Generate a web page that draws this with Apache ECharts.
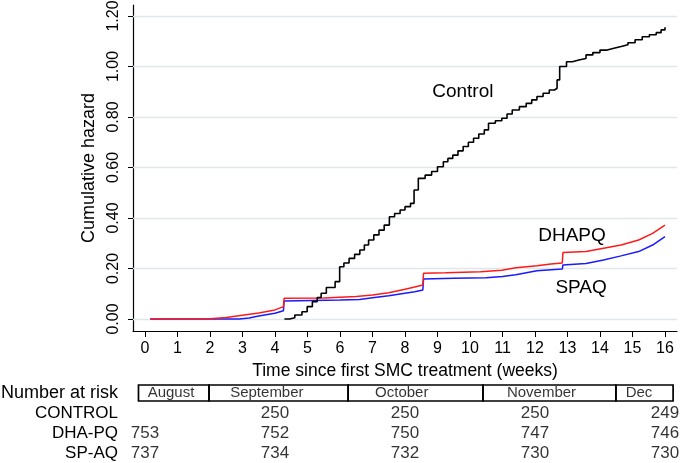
<!DOCTYPE html>
<html><head><meta charset="utf-8">
<script src="https://cdn.jsdelivr.net/npm/echarts@6/dist/echarts.min.js"></script>
<style>html,body{margin:0;padding:0;background:#fff}#c{width:680px;height:463px}</style>
</head><body><div id="c"></div>
<script>
// ---- data ----
const xTicks = [0,1,2,3,4,5,6,7,8,9,10,11,12,13,14,15,16];
const yTicks = [0,0.2,0.4,0.6,0.8,1.0,1.2];

const controlData = [[4.29,0.0],[4.45,0.005],[4.61,0.016],[4.83,0.029],[4.99,0.049],[5.15,0.069],[5.3,0.085],[5.42,0.102],[5.58,0.125],[5.85,0.148],[5.99,0.207],[6.12,0.222],[6.28,0.240],[6.45,0.256],[6.61,0.273],[6.75,0.293],[6.88,0.313],[7.04,0.333],[7.20,0.352],[7.36,0.372],[7.52,0.405],[7.68,0.418],[7.85,0.432],[8.0,0.445],[8.17,0.458],[8.28,0.511],[8.41,0.557],[8.62,0.570],[8.82,0.584],[9.0,0.603],[9.18,0.623],[9.32,0.636],[9.47,0.649],[9.63,0.666],[9.79,0.683],[9.95,0.700],[10.11,0.716],[10.27,0.733],[10.44,0.749],[10.57,0.775],[10.78,0.785],[10.98,0.795],[11.14,0.812],[11.30,0.828],[11.52,0.841],[11.73,0.854],[11.9,0.868],[12.06,0.881],[12.25,0.894],[12.44,0.907],[12.60,0.914],[12.68,0.947],[12.76,1.000],[12.97,1.019],[13.15,1.026],[13.35,1.032],[13.57,1.046],[13.78,1.055],[14.00,1.065],[14.22,1.072],[14.43,1.079],[14.65,1.086],[14.86,1.094],[15.08,1.106],[15.30,1.118],[15.52,1.126],[15.73,1.134],[15.88,1.145],[16.0,1.155]];

const dhapqData = [[0.16,0],[1.9,0],[2.5,0.006],[3.0,0.015],[3.5,0.024],[4.0,0.036],[4.26,0.049],[4.28,0.082],[5.5,0.083],[6.0,0.086],[6.5,0.089],[7.0,0.095],[7.5,0.104],[8.0,0.118],[8.3,0.127],[8.55,0.135],[8.57,0.181],[9.25,0.183],[10.33,0.187],[10.98,0.193],[11.41,0.203],[12.06,0.211],[12.49,0.218],[12.84,0.222],[12.86,0.263],[13.57,0.267],[14.11,0.280],[14.65,0.293],[15.19,0.313],[15.62,0.339],[16.0,0.372]];

const spaqData = [[0.16,0],[2.9,0],[3.2,0.004],[3.5,0.012],[4.0,0.023],[4.26,0.033],[4.28,0.071],[6.0,0.075],[6.6,0.077],[7.0,0.084],[7.5,0.092],[8.0,0.102],[8.3,0.108],[8.55,0.115],[8.57,0.158],[9.5,0.161],[10.5,0.163],[11.0,0.168],[11.41,0.175],[12.06,0.191],[12.84,0.198],[12.86,0.214],[13.57,0.220],[14.11,0.234],[14.65,0.250],[15.19,0.267],[15.62,0.293],[16.0,0.326]];

const riskRows = ['Number at risk','CONTROL','DHA-PQ','SP-AQ'];
const riskTimes = [0,4,8,12,16];
const riskControl = [null,250,250,250,249];
const riskDHAPQ = [753,752,750,747,746];
const riskSPAQ = [737,734,732,730,730];
const months = ['August','September','October','November','Dec'];
const monthBounds = [-0.2,1.97,6.25,10.4,14.49,16.25];
const monthLabelAt = [0.8,3.75,7.9,12.2,15.2];

// ---- chart ----
const FONT = "'Liberation Sans', Arial, Helvetica, sans-serif";
const X_MIN = -0.369, X_MAX = 16.37, Y_MIN = -0.0475, Y_MAX = 1.2436;

const riskPoints = [];
[[1,riskControl],[2,riskDHAPQ],[3,riskSPAQ]].forEach(([r,arr])=>{
  arr.forEach((v,i)=>{ if(v!==null) riskPoints.push([riskTimes[i], riskRows[r], v]); });
});
const monthPoints = months.map((m,i)=>[monthLabelAt[i], riskRows[0], m]);
const monthBoxes = months.map((m,i)=>[monthBounds[i], 0, monthBounds[i+1]]);
const gridLines = yTicks.map(v=>[[X_MIN, v],[X_MAX, v]]);

const chart = echarts.init(document.getElementById('c'), null, {renderer:'canvas'});
chart.setOption({
  animation:false,
  backgroundColor:'#fff',
  textStyle:{fontFamily:FONT,color:'#000'},
  grid:[{left:133,right:3,top:5,bottom:132,outerBoundsMode:'none'},
        {left:133,right:3,top:383,height:80,outerBoundsMode:'none'}],
  xAxis:[{
    type:'value',gridIndex:0,min:X_MIN,max:X_MAX,
    axisLine:{show:true,onZero:false,lineStyle:{color:'#000',width:1.2}},
    axisTick:{show:true,customValues:xTicks,length:6,lineStyle:{color:'#000',width:1}},
    axisLabel:{customValues:xTicks,fontSize:16,color:'#000',margin:10,fontFamily:FONT},
    splitLine:{show:false},
    name:'Time since first SMC treatment (weeks)',nameLocation:'middle',nameGap:30,
    nameTextStyle:{fontSize:17.5,color:'#000',fontFamily:FONT}
  },{
    type:'value',gridIndex:1,min:X_MIN,max:X_MAX,show:false
  }],
  yAxis:[{
    type:'value',gridIndex:0,min:Y_MIN,max:Y_MAX,
    axisLine:{show:true,onZero:false,lineStyle:{color:'#000',width:1.2}},
    axisTick:{show:true,customValues:yTicks,length:5,lineStyle:{color:'#000',width:1}},
    axisLabel:{customValues:yTicks,rotate:90,fontSize:16,margin:11,color:'#000',fontFamily:FONT,
      formatter:v=>Number(v).toFixed(2)},
    splitLine:{show:false},
    name:'Cumulative hazard',nameLocation:'middle',nameGap:34,
    nameTextStyle:{fontSize:18,color:'#000',fontFamily:FONT}
  },{
    type:'category',gridIndex:1,data:riskRows,inverse:true,
    axisLine:{show:false},axisTick:{show:false},splitLine:{show:false},
    axisLabel:{interval:0,margin:15,fontSize:17,color:'#000',fontFamily:FONT,
      formatter:(v,i)=>i===0?'{big|'+v+'}':v,
      rich:{big:{fontSize:18,color:'#000',fontFamily:FONT}}}
  }],
  series:[
    {type:'lines',name:'gridlines',coordinateSystem:'cartesian2d',xAxisIndex:0,yAxisIndex:0,
      data:gridLines.map(c=>({coords:c})),z:1,silent:true,
      lineStyle:{color:'#dfe7ea',width:1.3,opacity:1}},
    {type:'line',name:'Control',xAxisIndex:0,yAxisIndex:0,step:'end',data:controlData,
      showSymbol:false,symbol:'none',z:5,lineStyle:{color:'#000',width:1.6},
      markPoint:{symbol:'circle',symbolSize:0,data:[{coord:[9.78,0.899]}],
        label:{show:true,position:'inside',formatter:'Control',fontSize:19,color:'#000',fontFamily:FONT}}},
    {type:'line',name:'DHAPQ',xAxisIndex:0,yAxisIndex:0,data:dhapqData,
      showSymbol:false,symbol:'none',z:4,lineStyle:{color:'#ff1a1a',width:1.5},
      markPoint:{symbol:'circle',symbolSize:0,data:[{coord:[13.14,0.329]}],
        label:{show:true,position:'inside',formatter:'DHAPQ',fontSize:19,color:'#000',fontFamily:FONT}}},
    {type:'line',name:'SPAQ',xAxisIndex:0,yAxisIndex:0,data:spaqData,
      showSymbol:false,symbol:'none',z:3,lineStyle:{color:'#1a1aff',width:1.5},
      markPoint:{symbol:'circle',symbolSize:0,data:[{coord:[13.42,0.123]}],
        label:{show:true,position:'inside',formatter:'SPAQ',fontSize:19,color:'#000',fontFamily:FONT}}},
    {type:'scatter',xAxisIndex:1,yAxisIndex:1,data:riskPoints,symbolSize:0,
      label:{show:true,position:'inside',formatter:p=>String(p.value[2]),fontSize:17,color:'#000',fontFamily:FONT}},
    {type:'scatter',xAxisIndex:1,yAxisIndex:1,data:monthPoints,symbolSize:0,
      label:{show:true,position:'inside',formatter:p=>p.value[2],fontSize:15,color:'#000',fontFamily:FONT}},
    {type:'custom',xAxisIndex:1,yAxisIndex:1,data:monthBoxes,encode:{x:[0,2],y:1},clip:false,
      renderItem:(params,api)=>{
        const a = api.coord([api.value(0),0]);
        const b = api.coord([api.value(2),0]);
        return {type:'rect',shape:{x:a[0],y:a[1]-8,width:b[0]-a[0],height:16},
          style:{fill:'none',stroke:'#000',lineWidth:1.7}};
      }}
  ]
});
</script></body></html>
